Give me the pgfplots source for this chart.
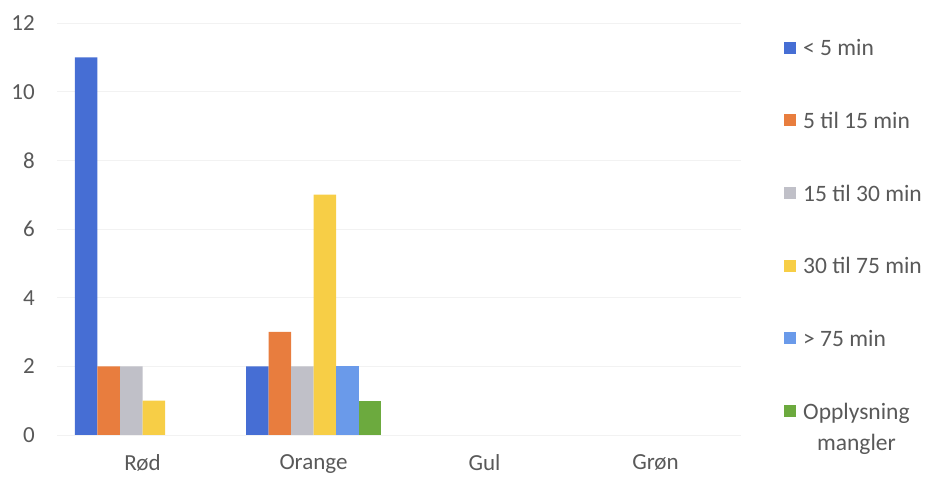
\documentclass[border=0pt]{standalone}
\usepackage{pgfplots}
\pgfplotsset{compat=1.18}
\usepackage{fontspec}
\setmainfont{Carlito}
\definecolor{txt}{RGB}{89,89,89}
\definecolor{c1}{RGB}{70,110,212}
\definecolor{c2}{RGB}{232,125,62}
\definecolor{c3}{RGB}{192,192,200}
\definecolor{c4}{RGB}{247,206,70}
\definecolor{c5}{RGB}{106,154,234}
\definecolor{c6}{RGB}{108,170,62}
\pgfplotsset{sq/.style={legend image code/.code={\path[##1,draw=none] (0pt,-3.5pt) rectangle (12pt,8.5pt);}}}
\begin{document}
\begin{tikzpicture}[x=1pt,y=1pt]
\useasboundingbox (0,0) rectangle (929,479);
\begin{axis}[
  at={(57pt,44pt)}, anchor=south west,
  scale only axis, width=684pt, height=412pt,
  xmin=-0.5, xmax=3.5, ymin=0, ymax=12,
  ytick={0,2,4,6,8,10,12}, xtick={0,1,2,3}, xticklabels={Rød,Orange,Gul,Grøn},
  ybar=0pt, bar width=22.5pt,
  axis line style={draw=none}, major tick length=0pt,
  ymajorgrids, grid style={black!5, line width=0.8pt},
  tick label style={font=\fontsize{23}{27}\selectfont, text=txt},
  /pgf/number format/assume math mode=true,
  yticklabel style={inner sep=0pt, xshift=-22pt},
  xticklabel style={inner sep=0pt, yshift=-19pt},
  legend cell align=left,
  legend style={at={(1.0629,0.960)}, anchor=north west, draw=none, fill=none,
    inner sep=0pt, font=\fontsize{23.5}{31}\selectfont, text=txt,
    nodes={inner sep=0pt, text height=16pt, text depth=5pt},
    row sep=51.7pt, column sep=7pt},
]
\addplot[fill=c1, draw=none, sq] coordinates {(0,11) (1,2)};
\addplot[fill=c2, draw=none, sq] coordinates {(0,2) (1,3)};
\addplot[fill=c3, draw=none, sq] coordinates {(0,2) (1,2)};
\addplot[fill=c4, draw=none, sq] coordinates {(0,1) (1,7)};
\addplot[fill=c5, draw=none, sq] coordinates {(1,2)};
\addplot[fill=c6, draw=none, sq] coordinates {(1,1)};
\legend{< 5 min, 5 til 15 min, 15 til 30 min, 30 til 75 min, > 75 min, {\begin{tabular}[t]{@{}c@{}}Opplysning\\mangler\end{tabular}}}
\end{axis}
\end{tikzpicture}
\end{document}
